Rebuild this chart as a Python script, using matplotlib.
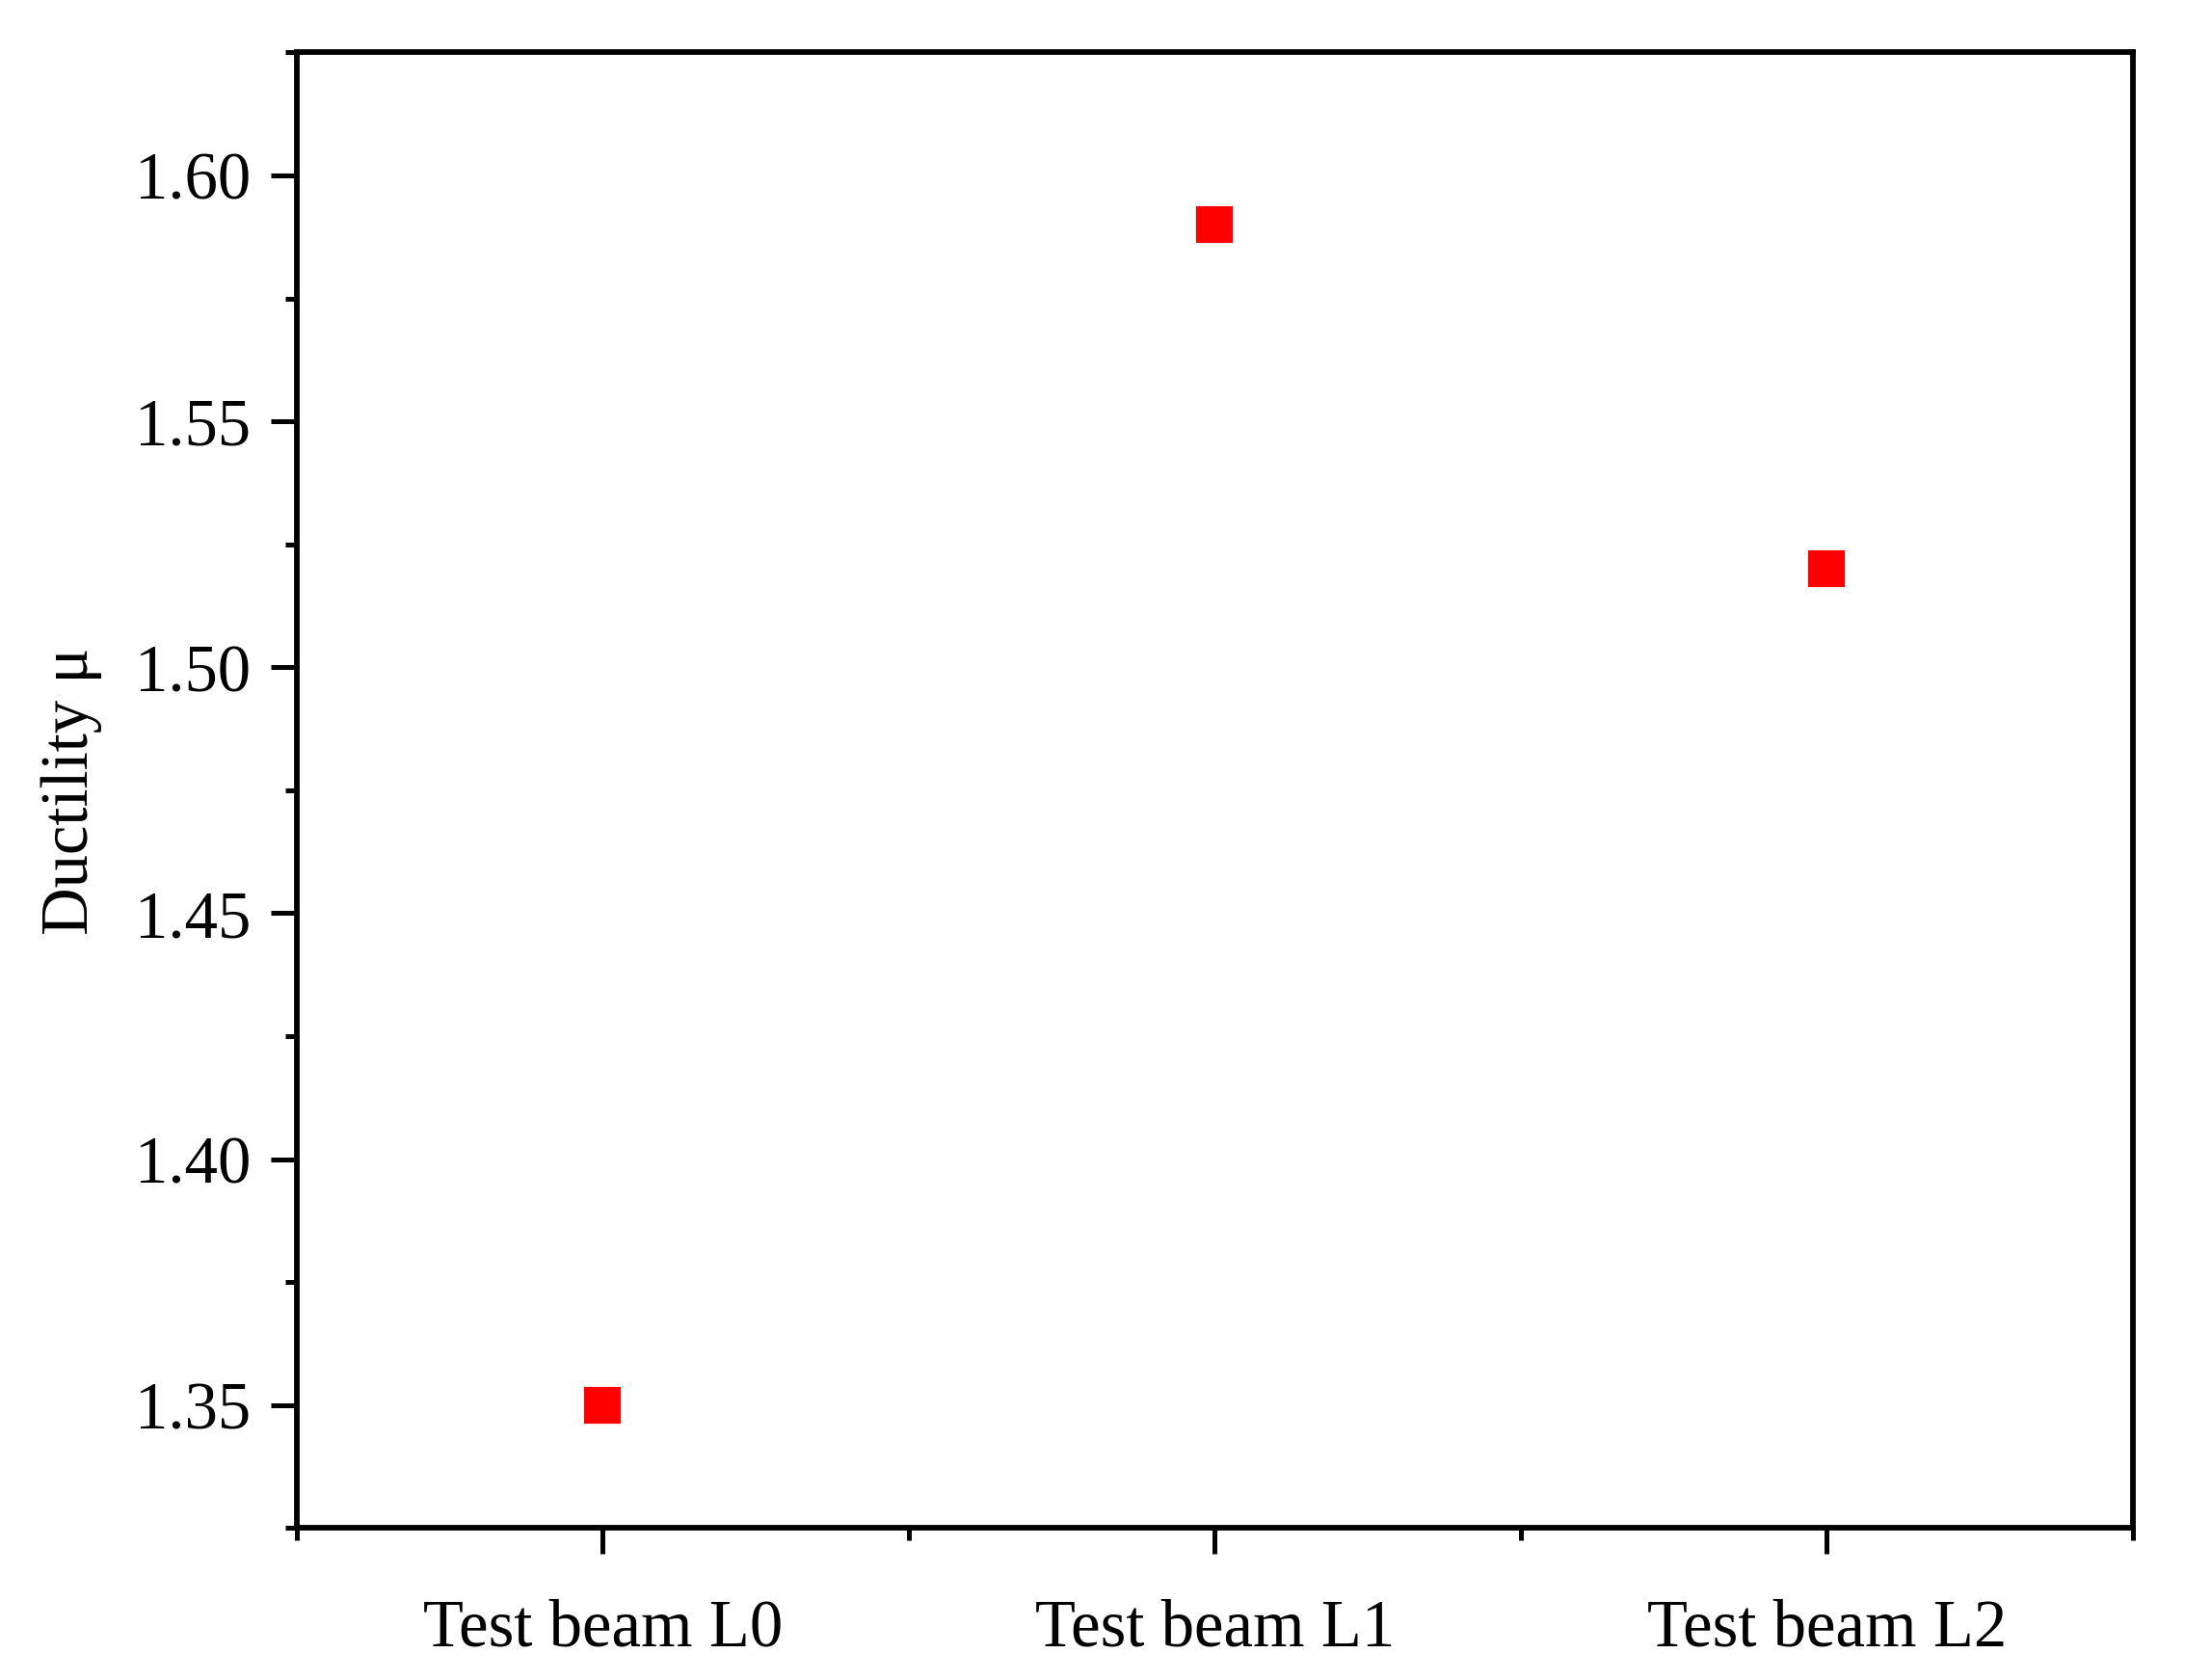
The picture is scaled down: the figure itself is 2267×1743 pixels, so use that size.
import matplotlib
matplotlib.use("Agg")
import matplotlib.pyplot as plt
import numpy as np
from matplotlib.ticker import MultipleLocator

# Datos
vigas = ['Test beam L0', 'Test beam L1', 'Test beam L2']
ductilidad = [1.35, 1.59, 1.52]

plt.rcParams['font.family'] = ['Liberation Serif', 'DejaVu Serif']

fig = plt.figure(figsize=(2267.5 / 300, 1743.5 / 300), dpi=300)
ax = fig.add_axes([0.1358, 0.0904, 0.9758 - 0.1358, 0.9685 - 0.0904])

x = np.arange(len(vigas))
ax.plot(x, ductilidad, linestyle='', marker='s', markersize=8, color='#ff0000')

ax.set_xlim(-0.5, 2.5)
ax.set_ylim(1.325, 1.625)
ax.set_xticks(x)
ax.set_xticklabels(vigas)
ax.xaxis.set_minor_locator(MultipleLocator(0.5))
ax.yaxis.set_major_locator(MultipleLocator(0.05))
ax.yaxis.set_minor_locator(MultipleLocator(0.025))
ax.yaxis.set_major_formatter(plt.FuncFormatter(lambda v, p: f'{v:.2f}'))

ax.set_ylabel('Ductility μ', fontsize=16.5, labelpad=8)

for s in ax.spines.values():
    s.set_linewidth(1.4)
ax.tick_params(which='major', direction='out', length=6.5, width=1.2, labelsize=16.5)
ax.tick_params(axis='x', which='major', pad=11)
ax.tick_params(axis='y', which='major', pad=5)
ax.tick_params(which='minor', direction='out', length=3, width=1.2)

fig.savefig('out.png', dpi=300)
